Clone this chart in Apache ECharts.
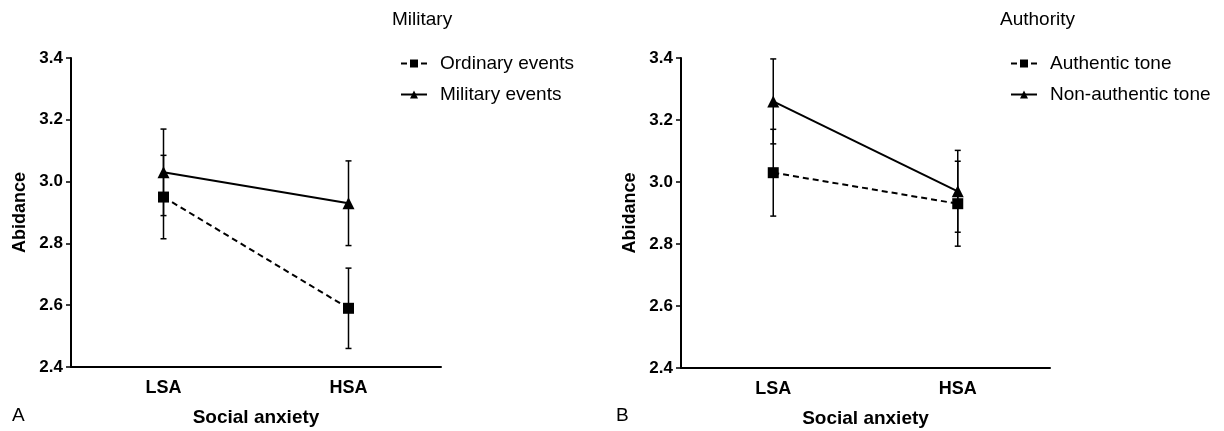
<!DOCTYPE html>
<html lang="en">
<head>
<meta charset="UTF-8">
<title>Abidance by social anxiety</title>
<script src="https://cdn.jsdelivr.net/npm/echarts@6/dist/echarts.min.js"></script>
</head>
<body style="margin:0;background:#fff">
<div id="chart" style="width:1224px;height:431px;"></div>
<script>
// categories and tick labels
var categories = ['LSA', 'HSA'];
var yTicks = [2.4, 2.6, 2.8, 3.0, 3.2, 3.4];

// panel A - Military
var ordinaryMean = [2.95, 2.59];
var ordinaryErr = [0.135, 0.13];
var militaryMean = [3.03, 2.93];
var militaryErr = [0.14, 0.137];

// panel B - Authority
var authenticMean = [3.03, 2.93];
var authenticErr = [0.14, 0.137];
var nonAuthMean = [3.26, 2.97];
var nonAuthErr = [0.137, 0.132];

var FONT = 'Liberation Sans, Arial, sans-serif';

// error bar data: [category index, low, high]
function errData(mean, err) {
  return mean.map(function (m, i) { return [i, m - err[i], m + err[i]]; });
}

function renderErr(params, api) {
  var top = api.coord([api.value(0), api.value(2)]);
  var bot = api.coord([api.value(0), api.value(1)]);
  var cap = 3;
  var st = { stroke: '#000', lineWidth: 1.5 };
  return {
    type: 'group',
    children: [
      { type: 'line', shape: { x1: top[0], y1: top[1], x2: bot[0], y2: bot[1] }, style: st },
      { type: 'line', shape: { x1: top[0] - cap, y1: top[1], x2: top[0] + cap, y2: top[1] }, style: st },
      { type: 'line', shape: { x1: bot[0] - cap, y1: bot[1], x2: bot[0] + cap, y2: bot[1] }, style: st }
    ]
  };
}

function xAx(idx) {
  return {
    type: 'category', gridIndex: idx, data: categories, boundaryGap: true,
    axisLine: { lineStyle: { color: '#000', width: 2 } },
    axisTick: { alignWithLabel: true, length: 5, lineStyle: { color: '#000', width: 1.5 } },
    axisLabel: { color: '#000', fontWeight: 'bold', fontSize: 18, fontFamily: FONT, margin: 12 },
    name: 'Social anxiety', nameLocation: 'middle', nameGap: 41,
    nameTextStyle: { color: '#000', fontWeight: 'bold', fontSize: 19, fontFamily: FONT }
  };
}

function yAx(idx) {
  return {
    type: 'value', gridIndex: idx, min: 2.4, max: 3.4, interval: 0.2,
    splitLine: { show: false },
    axisLine: { show: true, lineStyle: { color: '#000', width: 2 } },
    axisTick: { show: true, length: 5, lineStyle: { color: '#000', width: 1.5 } },
    axisLabel: {
      color: '#000', fontWeight: 'bold', fontSize: 17, fontFamily: FONT, margin: 8,
      formatter: function (v) { return v.toFixed(1); }
    },
    name: 'Abidance', nameLocation: 'middle', nameGap: 42, nameRotate: 90,
    nameTextStyle: { color: '#000', fontWeight: 'bold', fontSize: 18, fontFamily: FONT }
  };
}

function lineSeries(name, idx, data, dashed, symbol, size) {
  return {
    name: name, type: 'line', xAxisIndex: idx, yAxisIndex: idx, data: data,
    symbol: symbol, symbolSize: size, z: 3,
    lineStyle: { color: '#000', width: 2, type: dashed ? [6, 4] : 'solid' },
    itemStyle: { color: '#000' }
  };
}

function errSeries(idx, data) {
  return {
    type: 'custom', xAxisIndex: idx, yAxisIndex: idx, data: data,
    renderItem: renderErr, z: 2, silent: true
  };
}

var legendText = { color: '#000', fontSize: 19, fontFamily: FONT, padding: [0, 0, 0, 8] };
var titleText = { color: '#000', fontWeight: 'normal', fontSize: 19, fontFamily: FONT };

var chart = echarts.init(document.getElementById('chart'));
chart.setOption({
  animation: false,
  title: [
    { text: 'Military', left: 387, top: 5, textStyle: titleText },
    { text: 'Authority', left: 995, top: 5, textStyle: titleText }
  ],
  legend: [
    { data: ['Ordinary events', 'Military events'], orient: 'vertical', left: 395, top: 49,
      itemWidth: 26, itemHeight: 10, itemGap: 12, textStyle: legendText },
    { data: ['Authentic tone', 'Non-authentic tone'], orient: 'vertical', left: 1005, top: 49,
      itemWidth: 26, itemHeight: 10, itemGap: 12, textStyle: legendText }
  ],
  grid: [
    { left: 71, top: 58, width: 370, height: 309, outerBoundsMode: 'none' },
    { left: 681, top: 58, width: 369, height: 310, outerBoundsMode: 'none' }
  ],
  xAxis: [xAx(0), xAx(1)],
  yAxis: [yAx(0), yAx(1)],
  graphic: [
    { type: 'text', left: 12, top: 406, style: { text: 'A', fontSize: 19, fontFamily: FONT, fill: '#000' } },
    { type: 'text', left: 616, top: 406, style: { text: 'B', fontSize: 19, fontFamily: FONT, fill: '#000' } }
  ],
  series: [
    errSeries(0, errData(ordinaryMean, ordinaryErr)),
    errSeries(0, errData(militaryMean, militaryErr)),
    lineSeries('Ordinary events', 0, ordinaryMean, true, 'rect', 11),
    lineSeries('Military events', 0, militaryMean, false, 'triangle', 12),
    errSeries(1, errData(authenticMean, authenticErr)),
    errSeries(1, errData(nonAuthMean, nonAuthErr)),
    lineSeries('Authentic tone', 1, authenticMean, true, 'rect', 11),
    lineSeries('Non-authentic tone', 1, nonAuthMean, false, 'triangle', 12)
  ]
});
</script>
</body>
</html>
